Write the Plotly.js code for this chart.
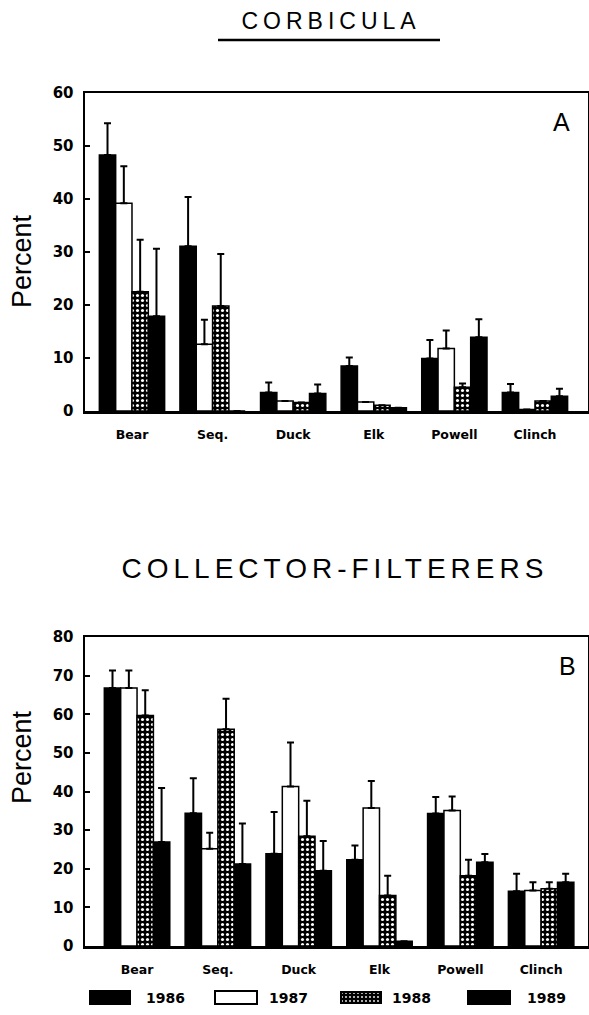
<!DOCTYPE html>
<html>
<head>
<meta charset="utf-8">
<script src="https://cdn.plot.ly/plotly-3.0.1.min.js"></script>
<style>html,body{margin:0;padding:0;background:#fff;}#chart{width:589px;height:1015px;}</style>
</head>
<body>
<div id="chart"></div>
<script>
// ---- data ----
const categories = ['Bear', 'Seq.', 'Duck', 'Elk', 'Powell', 'Clinch'];
const years = ['1986', '1987', '1988', '1989'];

// Panel A: Corbicula (percent) and upper error (SE)
const corb1986 = [48.3, 31.1, 3.5, 8.5, 9.9, 3.5];
const corb1987 = [39.2, 12.6, 1.9, 1.7, 11.8, 0.3];
const corb1988 = [22.5, 19.8, 1.6, 1.1, 4.5, 1.9];
const corb1989 = [17.9, 0.0, 3.3, 0.6, 13.9, 2.8];
const corbErr1986 = [6.0, 9.3, 1.9, 1.6, 3.5, 1.6];
const corbErr1987 = [7.0, 4.6, 0, 0, 3.4, 0];
const corbErr1988 = [9.8, 9.8, 0, 0, 0.7, 0];
const corbErr1989 = [12.7, 0, 1.7, 0, 3.4, 1.4];

// Panel B: Collector-filterers (percent) and upper error (SE)
const coll1986 = [66.8, 34.4, 23.9, 22.3, 34.3, 14.2];
const coll1987 = [66.8, 25.2, 41.3, 35.7, 35.1, 14.4];
const coll1988 = [59.7, 56.1, 28.4, 13.1, 18.2, 14.8];
const coll1989 = [26.9, 21.2, 19.5, 1.2, 21.7, 16.5];
const collErr1986 = [4.5, 9.0, 10.8, 3.7, 4.3, 4.5];
const collErr1987 = [4.5, 4.1, 11.4, 7.0, 3.6, 2.1];
const collErr1988 = [6.5, 7.9, 9.2, 5.1, 4.1, 1.7];
const collErr1989 = [14.0, 10.5, 7.7, 0, 2.1, 2.2];

const tickValsA = [0, 10, 20, 30, 40, 50, 60];
const tickValsB = [0, 10, 20, 30, 40, 50, 60, 70, 80];

// ---- styling ----
const W = 589, H = 1015;
const px = v => v / W;
const py = v => 1 - v / H;
const styles = {
  '1986': {color: 'black'},
  '1987': {color: 'white'},
  '1988': {color: 'black', pattern: {shape: '.', bgcolor: 'black', fgcolor: 'white', size: 5, solidity: 0.3, fillmode: 'replace'}},
  '1989': {color: 'black'}
};
const seriesA = [corb1986, corb1987, corb1988, corb1989];
const errA = [corbErr1986, corbErr1987, corbErr1988, corbErr1989];
const seriesB = [coll1986, coll1987, coll1988, coll1989];
const errB = [collErr1986, collErr1987, collErr1988, collErr1989];

function makeTrace(vals, errs, yr, xa, ya) {
  const st = styles[yr];
  const marker = {color: st.color, line: {color: 'black', width: 1.5}};
  if (st.pattern) marker.pattern = st.pattern;
  return {
    type: 'bar', x: categories, y: vals, name: yr, xaxis: xa, yaxis: ya,
    marker: marker, showlegend: false,
    error_y: {type: 'data', symmetric: false, array: errs, arrayminus: errs.map(() => 0),
              color: 'black', thickness: 2, width: 3.5, visible: true}
  };
}
const data = [];
years.forEach((yr, i) => data.push(makeTrace(seriesA[i], errA[i], yr, 'x', 'y')));
years.forEach((yr, i) => data.push(makeTrace(seriesB[i], errB[i], yr, 'x2', 'y2')));

const tickFont = {family: 'DejaVu Sans', size: 15, color: 'black', weight: 'bold'};
const catFont = {family: 'DejaVu Sans', size: 12.5, color: 'black', weight: 'bold'};

function xAxis(domain, range, anchor) {
  return {domain: domain, range: range, anchor: anchor, type: 'category',
    showline: true, linecolor: 'black', linewidth: 2.5, mirror: true,
    ticks: 'outside', ticklen: 10, tickcolor: 'rgba(0,0,0,0)', tickfont: catFont,
    showgrid: false, zeroline: false, fixedrange: true, automargin: false};
}
function yAxis(domain, range, tv, anchor, mirror) {
  return {domain: domain, range: range, anchor: anchor, tickvals: tv, ticktext: tv.map(String),
    showline: true, linecolor: 'black', linewidth: 2.5, mirror: mirror,
    ticks: 'inside', ticklen: 5, tickwidth: 2, tickcolor: 'black', tickfont: tickFont,
    ticklabelstandoff: 6, showgrid: false, zeroline: false, fixedrange: true, automargin: false};
}

const annotations = [
  {text: 'CORBICULA', x: px(331), y: py(21), xref: 'paper', yref: 'paper', showarrow: false,
   font: {family: 'Liberation Sans, Arial, sans-serif', size: 23, color: 'black'}, xanchor: 'center', yanchor: 'middle'},
  {text: 'COLLECTOR-FILTERERS', x: px(335), y: py(568), xref: 'paper', yref: 'paper', showarrow: false,
   font: {family: 'Liberation Sans, Arial, sans-serif', size: 28, color: 'black'}, xanchor: 'center', yanchor: 'middle'},
  {text: 'A', x: px(561), y: py(122), xref: 'paper', yref: 'paper', showarrow: false,
   font: {family: 'Liberation Sans, Arial, sans-serif', size: 25, color: 'black'}, xanchor: 'center', yanchor: 'middle'},
  {text: 'B', x: px(567), y: py(666), xref: 'paper', yref: 'paper', showarrow: false,
   font: {family: 'Liberation Sans, Arial, sans-serif', size: 25, color: 'black'}, xanchor: 'center', yanchor: 'middle'},
  {text: 'Percent', x: px(22), y: py(261), xref: 'paper', yref: 'paper', showarrow: false, textangle: -90,
   font: {family: 'Liberation Sans, Arial, sans-serif', size: 27, color: 'black'}, xanchor: 'center', yanchor: 'middle'},
  {text: 'Percent', x: px(22), y: py(757), xref: 'paper', yref: 'paper', showarrow: false, textangle: -90,
   font: {family: 'Liberation Sans, Arial, sans-serif', size: 27, color: 'black'}, xanchor: 'center', yanchor: 'middle'}
];
// legend labels
const legendTextX = [165, 288, 411, 546];
const legendBoxX = [[90, 130], [215, 257], [340, 382], [468, 510]];
years.forEach((yr, i) => annotations.push({text: yr, x: px(legendTextX[i]), y: py(998), xref: 'paper', yref: 'paper',
  showarrow: false, xanchor: 'center', yanchor: 'middle',
  font: {family: 'DejaVu Sans', size: 14, color: 'black', weight: 'bold'}}));

const shapes = [
  {type: 'line', xref: 'paper', yref: 'paper', x0: px(218), x1: px(440), y0: py(40), y1: py(40),
   line: {color: 'black', width: 2.5}}
];
[0, 1, 3].forEach(i => shapes.push({type: 'rect', xref: 'paper', yref: 'paper',
  x0: px(legendBoxX[i][0]), x1: px(legendBoxX[i][1]), y0: py(1004), y1: py(991),
  fillcolor: i === 1 ? 'white' : 'black', line: {color: 'black', width: 2}}));

const patSvg = "<svg xmlns='http://www.w3.org/2000/svg' width='42' height='13' viewBox='0 0 42 13'>" +
  "<defs><pattern id='p' width='4' height='4' patternUnits='userSpaceOnUse'>" +
  "<rect width='4' height='4' fill='black'/><circle cx='2' cy='2' r='0.9' fill='white'/></pattern></defs>" +
  "<rect x='1' y='1' width='40' height='11' fill='url(#p)' stroke='black' stroke-width='2'/></svg>";
const images = [{source: 'data:image/svg+xml;charset=utf-8,' + encodeURIComponent(patSvg),
  xref: 'paper', yref: 'paper', x: px(340), y: py(991), sizex: px(42), sizey: 13 / H,
  xanchor: 'left', yanchor: 'top', sizing: 'stretch', layer: 'above'}];

const layout = {
  width: W, height: H, margin: {l: 0, r: 0, t: 0, b: 0},
  paper_bgcolor: 'white', plot_bgcolor: 'white',
  barmode: 'group', bargap: 0.19, bargroupgap: 0,
  showlegend: false,
  xaxis: xAxis([px(85), px(588)], [-0.583, 5.658], 'y'),
  yaxis: yAxis([py(411), py(93)], [0, 60], tickValsA, 'x', true),
  xaxis2: xAxis([px(85), px(588)], [-0.644, 5.58], 'y2'),
  yaxis2: yAxis([py(946), py(637)], [0, 80], tickValsB, 'x2', true),
  annotations: annotations, shapes: shapes, images: images
};

Plotly.newPlot('chart', data, layout, {staticPlot: true}).then(() => {
  document.querySelectorAll('.annotation-text').forEach(t => {
    const s = t.textContent;
    if (s === 'CORBICULA') t.style.letterSpacing = '5px';
    if (s === 'COLLECTOR-FILTERERS') t.style.letterSpacing = '5px';
  });
});
</script>
</body>
</html>
